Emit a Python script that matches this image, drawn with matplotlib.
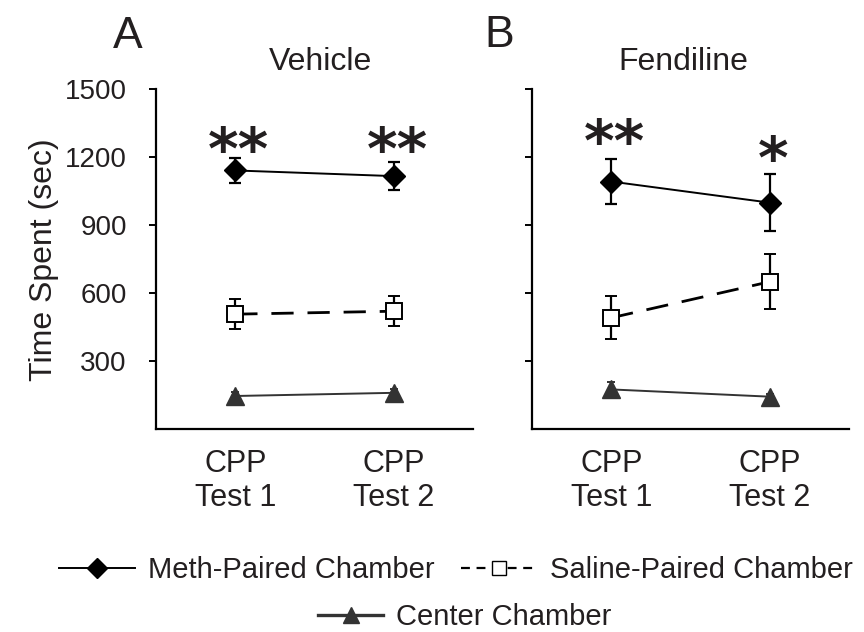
"""
CPP time spent per chamber, vehicle vs fendiline
"""

import matplotlib
matplotlib.use("Agg")
import matplotlib.pyplot as plt
from matplotlib.lines import Line2D


# DATA

tests = ["CPP\nTest 1", "CPP\nTest 2"]
x_pos = [1, 2]

# vehicle (panel A)
veh_meth = [1142, 1117]
veh_meth_err = [57, 62]
veh_saline = [508, 521]
veh_saline_err = [65, 67]
veh_center = [147, 161]
veh_center_err = [18, 15]
veh_stars = ["**", "**"]

# fendiline (panel B)
fen_meth = [1093, 1000]
fen_meth_err = [98, 127]
fen_saline = [492, 651]
fen_saline_err = [94, 122]
fen_center = [176, 144]
fen_center_err = [34, 12]
fen_stars = ["**", "*"]

# baseline of the significance stars
star_y_veh = [1150, 1150]
star_y_fen = [1185, 1110]

yticks = [300, 600, 900, 1200, 1500]


# STYLE

plt.rcParams['font.family'] = ['Liberation Sans', 'DejaVu Sans']
TXT = '#231f20'
GREY = '#333333'


def draw_panel(ax, meth, meth_err, sal, sal_err, cen, cen_err, stars, star_y, show_labels):
    ax.errorbar(x_pos, meth, yerr=meth_err, color='black', lw=1.4, marker='D', ms=11,
                mfc='black', mec='black', ecolor='black', elinewidth=1.6, capsize=4, capthick=1.6, zorder=3)
    ax.errorbar(x_pos, sal, yerr=sal_err, color='black', lw=2.0, dashes=(8, 5), marker='s', ms=12,
                mfc='white', mec='black', mew=1.4, ecolor='black', elinewidth=1.6, capsize=4, capthick=1.6, zorder=3)
    ax.errorbar(x_pos, cen, yerr=cen_err, color=GREY, lw=1.4, marker='^', ms=13,
                mfc=GREY, mec=GREY, ecolor=GREY, elinewidth=1.4, capsize=3, capthick=1.4, zorder=3)
    for xi, s, sy in zip(x_pos, stars, star_y):
        ax.text(xi + 0.02, sy, s, ha='center', va='baseline', fontsize=42, fontweight='heavy',
                family='DejaVu Sans', color=TXT)

    ax.set_xlim(0.5, 2.5)
    ax.set_ylim(0, 1500)
    ax.set_xticks(x_pos)
    ax.set_xticklabels(tests, fontsize=22, color=TXT, linespacing=1.2)
    ax.tick_params(axis='x', length=0, pad=14)
    ax.set_yticks(yticks)
    ax.tick_params(axis='y', length=5, width=1.4, direction='out', pad=16, labelsize=20, labelcolor=TXT)
    if not show_labels:
        ax.set_yticklabels([])
    ax.spines['top'].set_visible(False)
    ax.spines['right'].set_visible(False)
    ax.spines['left'].set_linewidth(1.6)
    ax.spines['bottom'].set_linewidth(1.6)


fig = plt.figure(figsize=(8.64, 6.32), dpi=100)
ax1 = fig.add_axes([0.1806, 0.3207, 0.3669, 0.538])
ax2 = fig.add_axes([0.6157, 0.3207, 0.3669, 0.538])

draw_panel(ax1, veh_meth, veh_meth_err, veh_saline, veh_saline_err, veh_center, veh_center_err,
           veh_stars, star_y_veh, True)
draw_panel(ax2, fen_meth, fen_meth_err, fen_saline, fen_saline_err, fen_center, fen_center_err,
           fen_stars, star_y_fen, False)

ax1.set_ylabel("Time Spent (sec)", fontsize=23, color=TXT, labelpad=4)

ax1.text(0.519, 1.057, "Vehicle", transform=ax1.transAxes, ha='center', va='baseline', fontsize=23, color=TXT)
ax2.text(0.478, 1.057, "Fendiline", transform=ax2.transAxes, ha='center', va='baseline', fontsize=23, color=TXT)
ax1.text(-0.088, 1.121, "A", transform=ax1.transAxes, ha='center', va='baseline', fontsize=32, color=TXT)
ax2.text(-0.104, 1.124, "B", transform=ax2.transAxes, ha='center', va='baseline', fontsize=32, color=TXT)

# LEGEND
h_meth = Line2D([], [], color='black', lw=1.4, marker='D', ms=10, mfc='black', mec='black')
h_sal = Line2D([], [], color='black', lw=1.6, dashes=(4, 3), marker='s', ms=10, mfc='white', mec='black')
h_cen = Line2D([], [], color=GREY, lw=2.4, marker='^', ms=11, mfc=GREY, mec=GREY)

fig.legend([h_meth, h_sal], ["Meth-Paired Chamber", "Saline-Paired Chamber"], ncol=2,
           loc='center', bbox_to_anchor=(0.528, 0.098), frameon=False, fontsize=21,
           handlelength=2.6, handletextpad=0.45, columnspacing=0.9, numpoints=1,
           labelcolor=TXT)
fig.legend([h_cen], ["Center Chamber"], loc='center', bbox_to_anchor=(0.538, 0.024), frameon=False,
           fontsize=21, handlelength=2.2, handletextpad=0.45, numpoints=1, labelcolor=TXT)

plt.savefig("out.png", dpi=100)
